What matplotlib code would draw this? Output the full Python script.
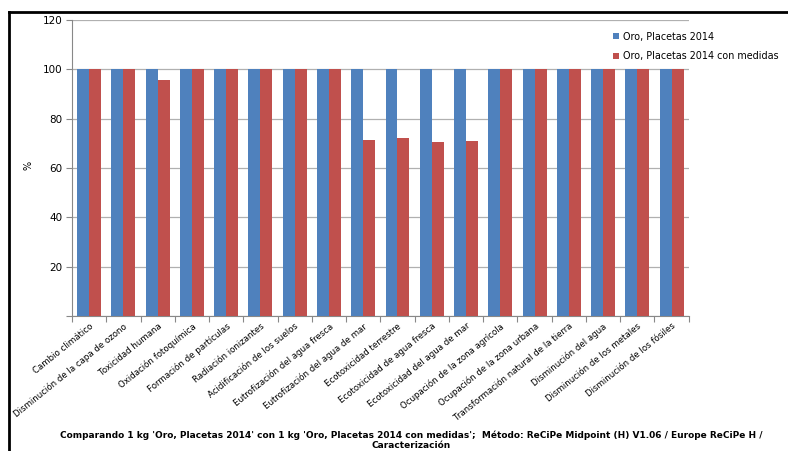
import matplotlib.pyplot as plt
import numpy as np
from matplotlib.lines import Line2D

categorias = [
    'Cambio climático', 'Disminución de la capa de ozono', 'Toxicidad humana',
    'Oxidación fotoquímica', 'Formación de partículas', 'Radiación ionizantes',
    'Acidificación de los suelos', 'Eutrofización del agua fresca',
    'Eutrofización del agua de mar', 'Ecotoxicidad terrestre',
    'Ecotoxicidad de agua fresca', 'Ecotoxicidad del agua de mar',
    'Ocupación de la zona agrícola', 'Ocupación de la zona urbana',
    'Transformación natural de la tierra', 'Disminución del agua',
    'Disminución de los metales', 'Disminución de los fósiles',
]
oro = [100] * 18
oro_medidas = [100, 100, 95.6, 100, 100, 100, 100, 100, 71.5, 72.0, 70.6, 71.0,
               100, 100, 100, 100, 100, 100]

azul = '#4F81BD'
rojo = '#C0504D'

fig = plt.figure(figsize=(7.88, 4.51), dpi=100)
ax = fig.add_axes([0.0914, 0.2993, 0.7826, 0.6564])

x = np.arange(len(categorias))
w = 0.35
ax.bar(x - w / 2, oro, w, color=azul, label='Oro, Placetas 2014', zorder=3)
ax.bar(x + w / 2, oro_medidas, w, color=rojo,
       label='Oro, Placetas 2014 con medidas', zorder=3)

ax.set_xlim(-0.5, len(categorias) - 0.5)
ax.set_ylim(0, 120)
ax.set_yticks([0, 20, 40, 60, 80, 100, 120])
ax.set_yticklabels(['', '20', '40', '60', '80', '100', '120'])
ax.yaxis.grid(True, color='#b0b0b0', linewidth=0.9, zorder=0)
ax.tick_params(axis='y', labelsize=7.5, length=4, color='#888888', pad=3)

# marcas entre categorías, etiquetas centradas
ax.set_xticks(np.arange(-0.5, len(categorias), 1.0))
ax.set_xticklabels([])
ax.set_xticks(x, minor=True)
ax.set_xticklabels(categorias, minor=True, rotation=39, ha='right',
                   rotation_mode='anchor', fontsize=6.2)
ax.tick_params(axis='x', which='major', length=4, color='#888888')
ax.tick_params(axis='x', which='minor', length=0, pad=4)

for s in ['top', 'right']:
    ax.spines[s].set_visible(False)
for s in ['left', 'bottom']:
    ax.spines[s].set_color('#888888')

ax.set_ylabel('%', fontsize=7, rotation=90)
ax.yaxis.set_label_coords(-0.062, 0.51)

fig.legend(loc='upper left', bbox_to_anchor=(0.778, 0.93), frameon=False,
           fontsize=6.9, handlelength=0.6, handleheight=0.6, handletextpad=0.4,
           labelspacing=1.0, borderaxespad=0, borderpad=0)

fig.text(0.522, 0.046,
         "Comparando 1 kg 'Oro, Placetas 2014' con 1 kg 'Oro, Placetas 2014 con medidas';  "
         "Método: ReCiPe Midpoint (H) V1.06 / Europe ReCiPe H /\nCaracterización",
         ha='center', va='top', fontsize=6.5, fontweight='bold',
         linespacing=1.15)

# marco negro superior e izquierdo
fig.add_artist(Line2D([0.0114, 1.0], [0.973, 0.973], color='black', linewidth=2,
                      transform=fig.transFigure))
fig.add_artist(Line2D([0.0114, 0.0114], [0.0, 0.973], color='black', linewidth=2,
                      transform=fig.transFigure))

fig.savefig('out.png', dpi=100)
